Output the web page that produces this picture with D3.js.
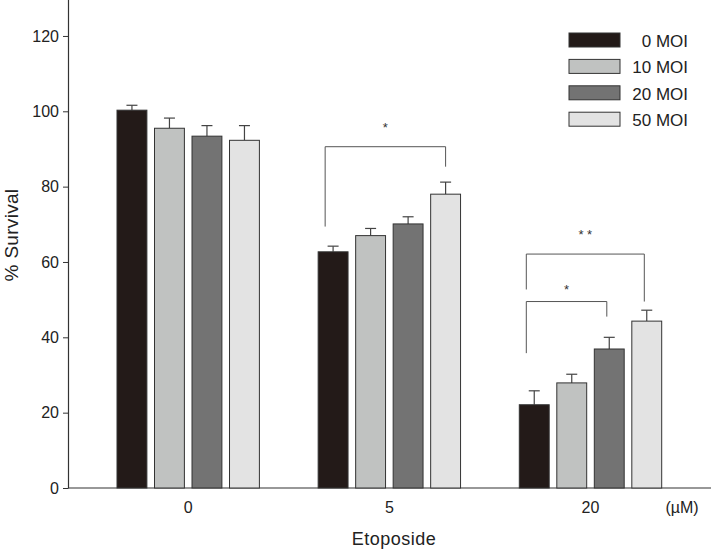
<!DOCTYPE html>
<html><head><meta charset="utf-8">
<script src="https://cdn.jsdelivr.net/npm/d3@7"></script>
<style>body{margin:0;background:#fff}svg{display:block;font-family:"Liberation Sans",Arial,sans-serif}</style>
</head><body><svg id="c" width="711" height="550"></svg>
<script>
const groups = ["0", "5", "20"];
const series = ["0 MOI", "10 MOI", "20 MOI", "50 MOI"];
const colors = ["#231a18", "#c0c2c1", "#737373", "#e3e3e3"];
const values = [
  [100.3, 95.5, 93.4, 92.3],
  [62.7, 67.0, 70.1, 78.0],
  [22.1, 27.9, 36.9, 44.3]
];
const errors = [
  [1.3, 2.7, 2.8, 3.9],
  [1.5, 1.9, 1.9, 3.2],
  [3.7, 2.3, 3.1, 2.9]
];
const yTicks = [0, 20, 40, 60, 80, 100, 120];
// significance brackets: group, from series index, to series index, top value, left leg end, right leg end, label, label value
const brackets = [
  {g: "5", a: 0, b: 3, top: 90.6, l: 69.4, r: 85.3, label: "*", ly: 95.9},
  {g: "20", a: 0, b: 3, top: 62.1, l: 52.7, r: 49.5, label: "* *", ly: 67.3},
  {g: "20", a: 0, b: 2, top: 49.5, l: 35.8, r: 45.5, label: "*", ly: 52.7}
];

const svg = d3.select("#c");
const axisColor = "#333";
const x0 = d3.scalePoint().domain(groups).range([188.2, 590.5]);
const x1 = d3.scaleBand().domain(series).range([-71.2, 71.2]).paddingInner(0.203).paddingOuter(0);
const y = d3.scaleLinear().domain([0, 130]).range([488, 488 - 130 * 3.767]);

// y axis
const ya = svg.append("g").attr("transform", "translate(68,0)")
  .call(d3.axisLeft(y).tickValues(yTicks).tickSize(5).tickSizeOuter(0).tickPadding(4));
ya.select(".domain").attr("stroke", axisColor).attr("stroke-width", 1.2);
ya.selectAll(".tick line").attr("stroke", axisColor);
ya.selectAll(".tick text").attr("font-size", 16).attr("fill", "#222")
  .attr("font-family", "Liberation Sans, Arial, sans-serif");

// x axis line
svg.append("line").attr("x1", 68).attr("x2", 711).attr("y1", y(0)).attr("y2", y(0))
  .attr("stroke", axisColor).attr("stroke-width", 1.2);
svg.selectAll(".xl").data(groups).enter().append("text")
  .attr("x", d => x0(d)).attr("y", 513).attr("text-anchor", "middle")
  .attr("font-size", 16).attr("fill", "#222").text(d => d);
svg.append("text").attr("x", 682).attr("y", 513).attr("text-anchor", "middle")
  .attr("font-size", 16).attr("fill", "#222").text("(µM)");
svg.append("text").attr("x", 394).attr("y", 545).attr("text-anchor", "middle")
  .attr("font-size", 18).attr("letter-spacing", 0.5).attr("fill", "#222").text("Etoposide");
svg.append("text").attr("transform", "translate(18,235) rotate(-90)").attr("text-anchor", "middle")
  .attr("font-size", 19).attr("letter-spacing", 0.3).attr("fill", "#222").text("% Survival");

// bars & error bars
groups.forEach((g, gi) => {
  const gg = svg.append("g").attr("transform", `translate(${x0(g)},0)`);
  series.forEach((s, si) => {
    const v = values[gi][si], e = errors[gi][si];
    const bx = x1(s), bw = x1.bandwidth(), cx = bx + bw / 2;
    gg.append("line").attr("x1", cx).attr("x2", cx).attr("y1", y(v)).attr("y2", y(v + e))
      .attr("stroke", "#444").attr("stroke-width", 1.2);
    gg.append("line").attr("x1", cx - 5.5).attr("x2", cx + 5.5).attr("y1", y(v + e)).attr("y2", y(v + e))
      .attr("stroke", "#444").attr("stroke-width", 1.2);
    gg.append("rect").attr("x", bx).attr("y", y(v)).attr("width", bw).attr("height", y(0) - y(v))
      .attr("fill", colors[si]).attr("stroke", "#333").attr("stroke-width", 1);
  });
});

// brackets
brackets.forEach(b => {
  const xl = x0(b.g) + x1(series[b.a]) + 7;
  const xr = x0(b.g) + x1(series[b.b]) + (b.b === 3 && b.g === "5" ? x1.bandwidth() / 2 : 12.5);
  svg.append("path")
    .attr("d", `M${xl},${y(b.l)}V${y(b.top)}H${xr}V${y(b.r)}`)
    .attr("fill", "none").attr("stroke", "#555").attr("stroke-width", 1);
  svg.append("text").attr("x", (xl + xr) / 2).attr("y", y(b.ly) + 5).attr("text-anchor", "middle")
    .attr("font-size", 13).attr("fill", "#333").text(b.label);
});

// legend
const lg = svg.append("g");
series.forEach((s, i) => {
  const yy = 33 + i * 26.4;
  lg.append("rect").attr("x", 569).attr("y", yy).attr("width", 51).attr("height", 14)
    .attr("fill", colors[i]).attr("stroke", "#333").attr("stroke-width", 1);
  lg.append("text").attr("x", 688).attr("y", yy + 14).attr("text-anchor", "end")
    .attr("font-size", 17).attr("fill", "#222").text(s);
});
</script></body></html>
